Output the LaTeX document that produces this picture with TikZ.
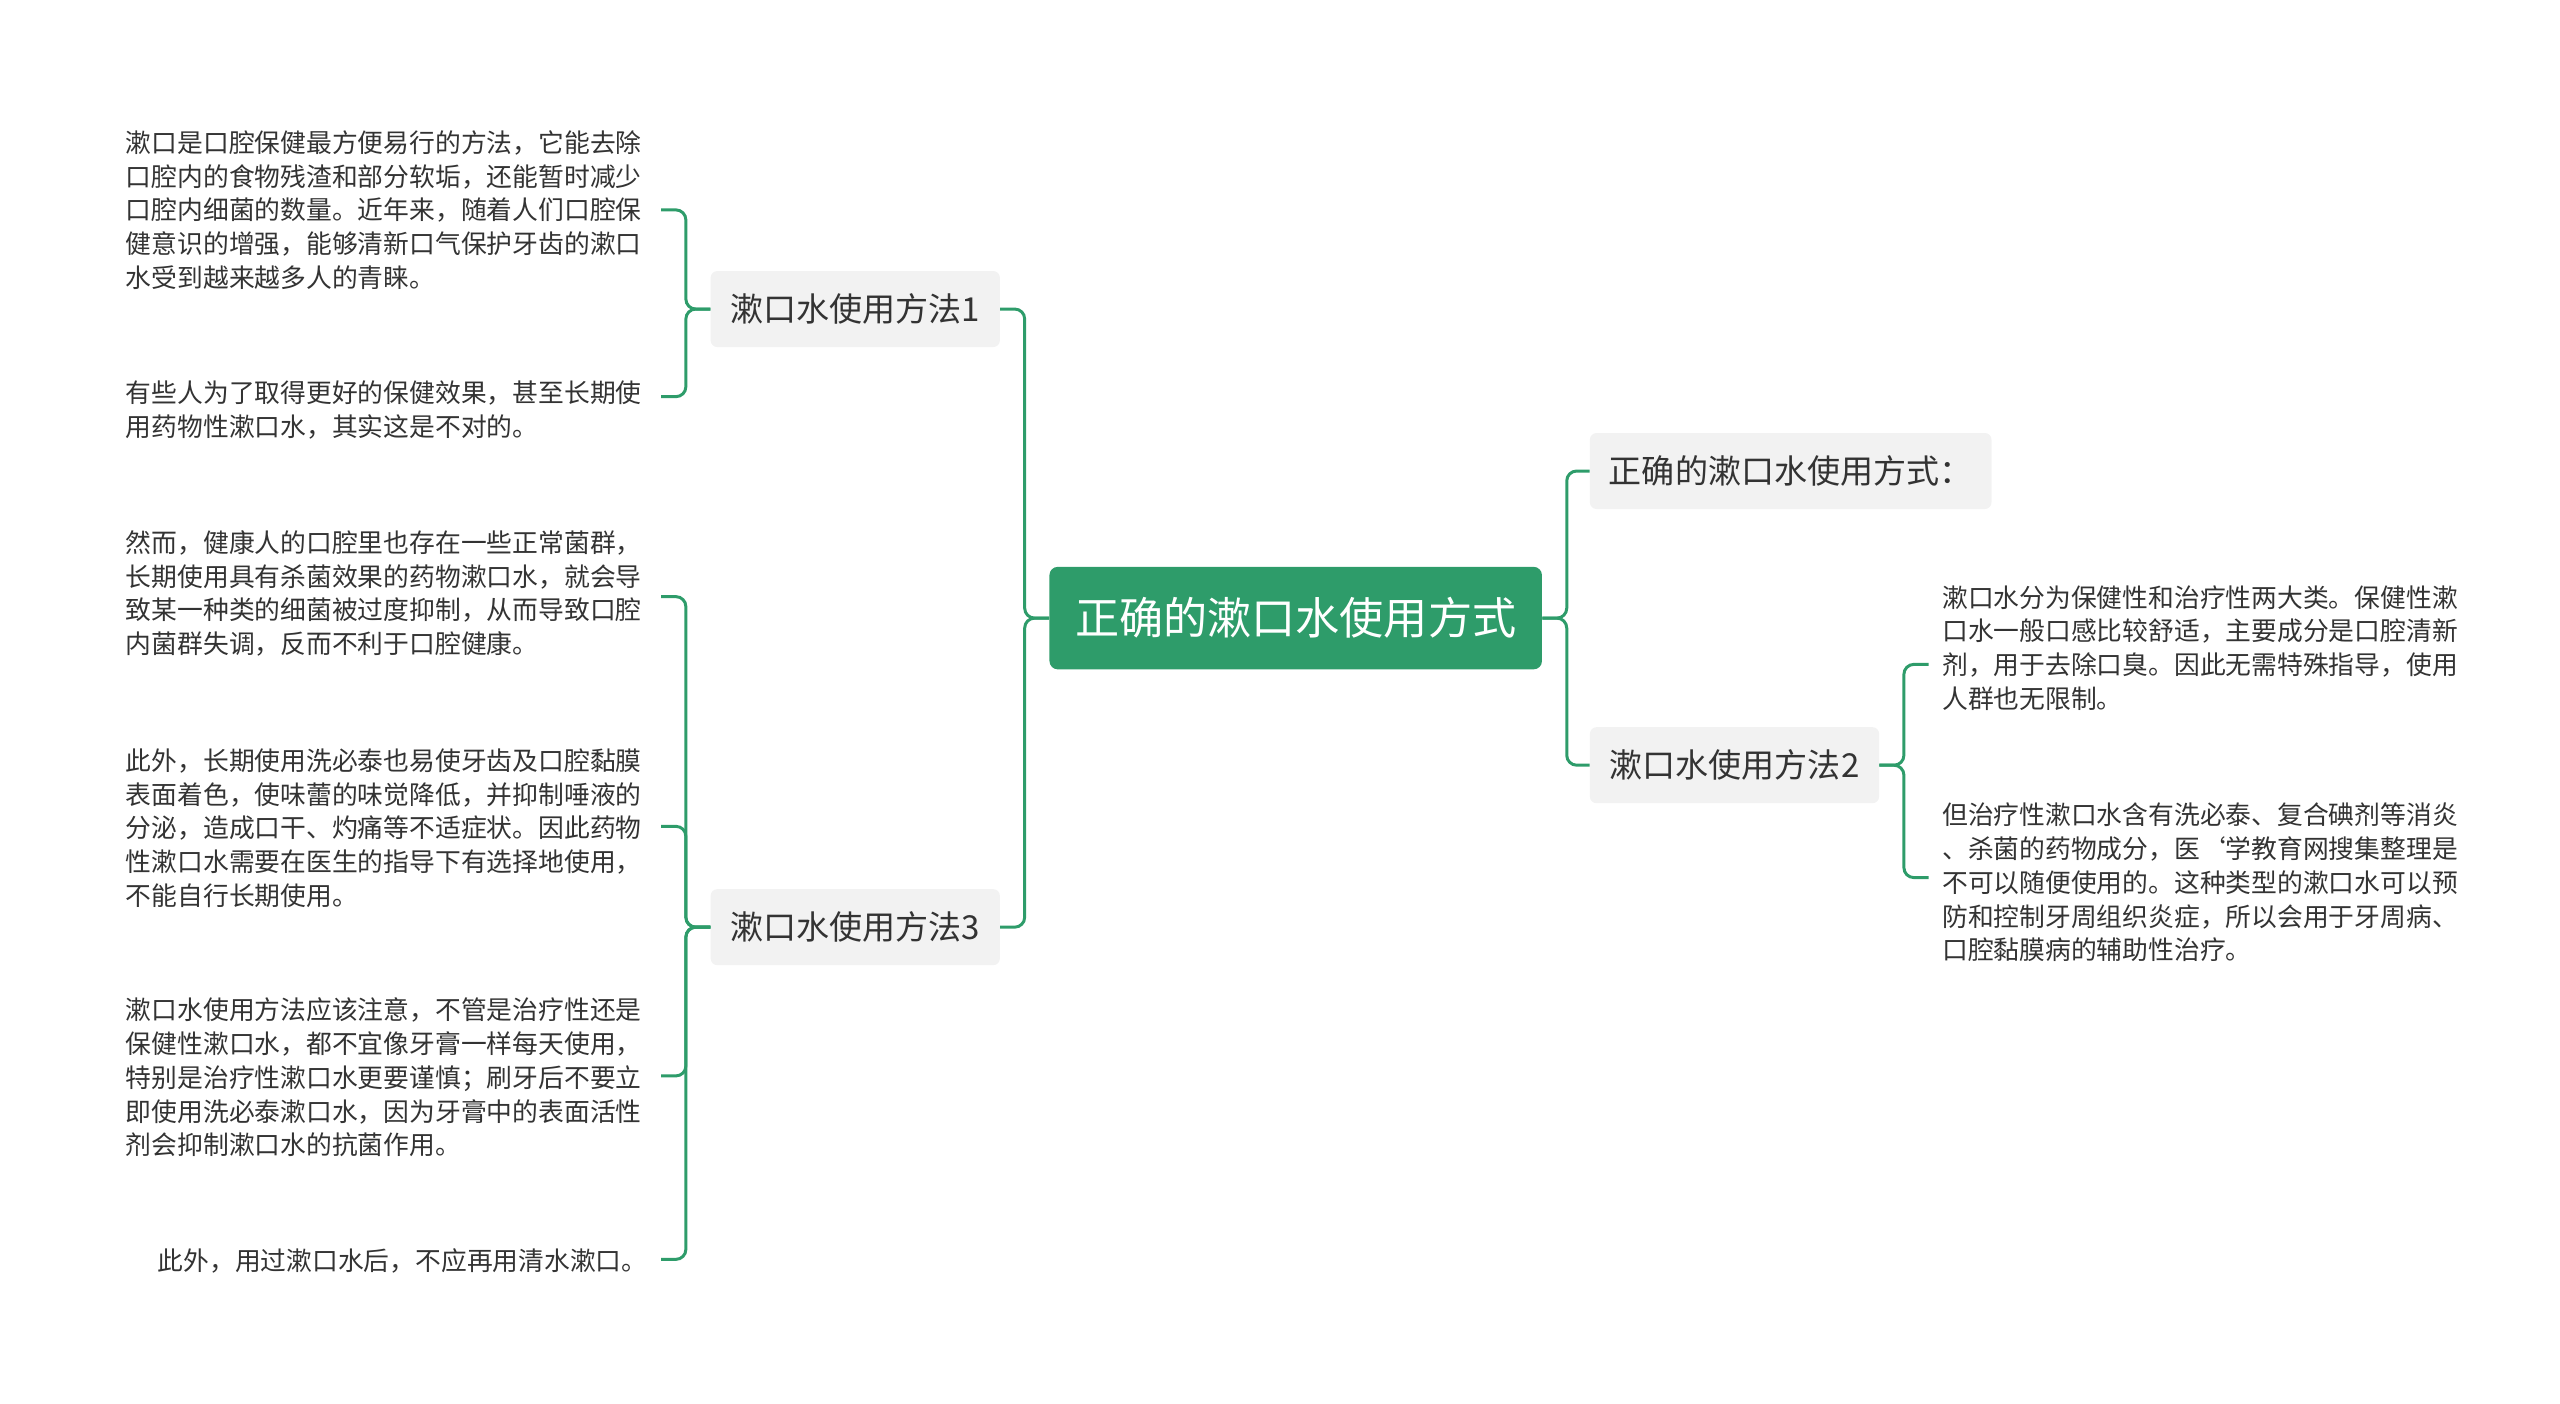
\documentclass[tikz,border=0pt]{standalone}
\usepackage{fontspec}
\setmainfont{Noto Sans CJK SC}
\begin{document}
\begin{tikzpicture}[x=1pt,y=-1pt,
  branch/.style={fill=gray!10,rounded corners=4pt,minimum height=46pt,inner xsep=8pt,font=\fontsize{20}{22}\selectfont,text=black!80},
  leaf/.style={align=left,font=\fontsize{15.6}{20.4}\selectfont,text=black!80,inner sep=0pt}]
\definecolor{mg}{HTML}{2E9C6A}
\tikzset{conn/.style={draw=mg,line width=1.8pt,rounded corners=6pt}}
\useasboundingbox (0,0) rectangle (1549,849);
\node[fill=mg,rounded corners=5pt,minimum width=298pt,minimum height=62pt,text=white,font=\fontsize{26.7}{30}\selectfont] (c) at (784,374) {正确的漱口水使用方式};
\node[branch,minimum width=175pt] (b1) at (517.5,187) {漱口水使用方法1};
\node[branch,minimum width=175pt] (b3) at (517.5,561) {漱口水使用方法3};
\node[branch,minimum width=243pt] (r1) at (1083.5,285) {正确的漱口水使用方式：};
\node[branch,minimum width=175pt] (r2) at (1049.5,463) {漱口水使用方法2};
\node[leaf,anchor=west] (l1) at (76,127) {漱口是口腔保健最方便易行的方法，它能去除\\口腔内的食物残渣和部分软垢，还能暂时减少\\口腔内细菌的数量。近年来，随着人们口腔保\\健意识的增强，能够清新口气保护牙齿的漱口\\水受到越来越多人的青睐。};
\node[leaf,anchor=west] (l2) at (76,248) {有些人为了取得更好的保健效果，甚至长期使\\用药物性漱口水，其实这是不对的。};
\node[leaf,anchor=west] (l3) at (76,359) {然而，健康人的口腔里也存在一些正常菌群，\\长期使用具有杀菌效果的药物漱口水，就会导\\致某一种类的细菌被过度抑制，从而导致口腔\\内菌群失调，反而不利于口腔健康。};
\node[leaf,anchor=west] (l4) at (76,501) {此外，长期使用洗必泰也易使牙齿及口腔黏膜\\表面着色，使味蕾的味觉降低，并抑制唾液的\\分泌，造成口干、灼痛等不适症状。因此药物\\性漱口水需要在医生的指导下有选择地使用，\\不能自行长期使用。};
\node[leaf,anchor=west] (l5) at (76,652) {漱口水使用方法应该注意，不管是治疗性还是\\保健性漱口水，都不宜像牙膏一样每天使用，\\特别是治疗性漱口水更要谨慎；刷牙后不要立\\即使用洗必泰漱口水，因为牙膏中的表面活性\\剂会抑制漱口水的抗菌作用。};
\node[leaf,anchor=east] (l6) at (392,763) {此外，用过漱口水后，不应再用清水漱口。};
\node[leaf,anchor=west] (m1) at (1175,392) {漱口水分为保健性和治疗性两大类。保健性漱\\口水一般口感比较舒适，主要成分是口腔清新\\剂，用于去除口臭。因此无需特殊指导，使用\\人群也无限制。};
\node[leaf,anchor=west] (m2) at (1175,534) {但治疗性漱口水含有洗必泰、复合碘剂等消炎\\、杀菌的药物成分，医`学教育网搜集整理是\\不可以随便使用的。这种类型的漱口水可以预\\防和控制牙周组织炎症，所以会用于牙周病、\\口腔黏膜病的辅助性治疗。};
\draw[conn] (c.west) -- (620,374) |- (b1.east);
\draw[conn] (c.west) -- (620,374) |- (b3.east);
\draw[conn] (c.east) -- (948,374) |- (r1.west);
\draw[conn] (c.east) -- (948,374) |- (r2.west);
\draw[conn] (b1.west) -- (415,187) |- (400,127);
\draw[conn] (b1.west) -- (415,187) |- (400,240);
\draw[conn] (b3.west) -- (415,561) |- (400,361);
\draw[conn] (b3.west) -- (415,561) |- (400,500);
\draw[conn] (b3.west) -- (415,561) |- (400,651);
\draw[conn] (b3.west) -- (415,561) |- (400,762);
\draw[conn] (r2.east) -- (1152,463) |- (1167,402);
\draw[conn] (r2.east) -- (1152,463) |- (1167,531);
\end{tikzpicture}
\end{document}
